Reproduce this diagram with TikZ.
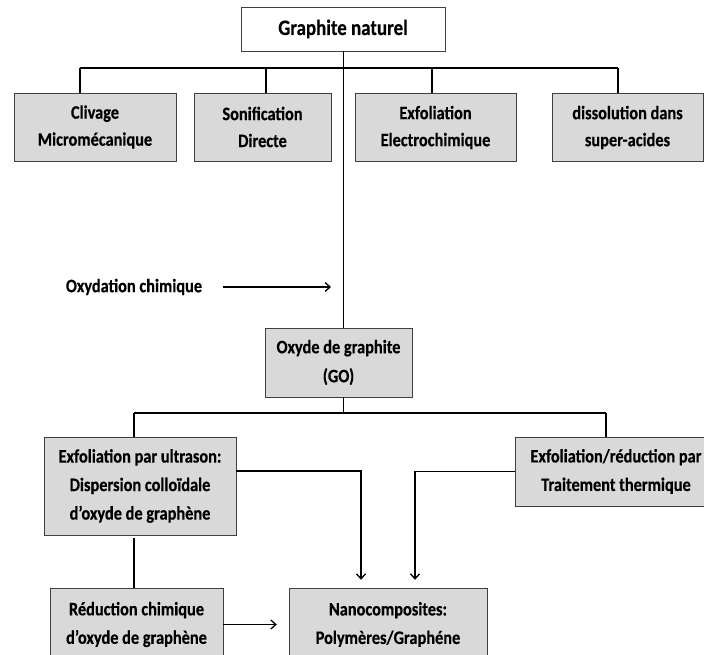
\documentclass[tikz,border=0pt]{standalone}
\usepackage{fontspec}
\setmainfont{Carlito}[FakeStretch=0.86,BoldFeatures={FakeBold=0.4}]
\usetikzlibrary{arrows.meta,positioning,calc}

\begin{document}
\begin{tikzpicture}[x=1pt,y=-1pt,>={Straight Barb[length=5pt,width=9pt]},font=\bfseries]
\tikzstyle{b}=[draw=black!75,fill=black!15,align=center,inner sep=0pt,font=\bfseries\fontsize{19}{27}\selectfont]
\useasboundingbox (0,0) rectangle (704,655);
\clip (0,0) rectangle (704,655);
\node[b,fill=white,minimum width=204,minimum height=44,font=\bfseries\fontsize{22}{25}\selectfont] (gn) at (343,29) {Graphite naturel};
\node[b,minimum width=162,minimum height=68] (cliv) at (95,127) {Clivage\\Microm\'ecanique};
\node[b,minimum width=137,minimum height=68] (sonif) at (262.5,127) {Sonification\\Directe};
\node[b,minimum width=161,minimum height=68] (exfo) at (435.5,127.5) {Exfoliation\\Electrochimique};
\node[b,minimum width=151,minimum height=68] (diss) at (627.5,127.5) {dissolution dans\\super-acides};
\node[font=\bfseries\fontsize{19}{27}\selectfont] (oxy) at (134,287) {Oxydation chimique};
\node[b,minimum width=147,minimum height=69,font=\bfseries\fontsize{19}{29}\selectfont] (go) at (338.5,362.5) {Oxyde de graphite\\(GO)};
\node[b,minimum width=192,minimum height=98,font=\bfseries\fontsize{19}{28.5}\selectfont] (ultra) at (140,486) {Exfoliation par ultrason:\\Dispersion collo\"idale\\d’oxyde de graph\`ene};
\node[b,minimum width=202,minimum height=69,font=\bfseries\fontsize{19}{28.5}\selectfont] (trait) at (616,471.5) {Exfoliation/r\'eduction par\\Traitement thermique};
\node[b,minimum width=173,minimum height=73,font=\bfseries\fontsize{19}{28.5}\selectfont] (reduc) at (136.5,624.5) {R\'eduction chimique\\d’oxyde de graph\`ene};
\node[b,minimum width=198,minimum height=73,font=\bfseries\fontsize{19}{28.5}\selectfont] (nano) at (388,624.5) {Nanocomposites:\\Polym\`eres/Graph\'ene};
% top level
\coordinate (d1) at (80,68); \coordinate (d2) at (266,68); \coordinate (d3) at (432,68); \coordinate (d4) at (618,68);
\draw[line width=1.8pt] (d1) -- (d4);
\draw[line width=1.3pt] (d1) -- (d1 |- cliv.north); \draw[line width=1.3pt] (d2) -- (d2 |- sonif.north);
\draw[line width=1.3pt] (d3) -- (d3 |- exfo.north); \draw[line width=1.3pt] (d4) -- (d4 |- diss.north);
\draw[line width=1pt] (gn.south) -- (gn.south |- go.north);
\coordinate (oxyend) at (331,287);
\draw[->,line width=1.3pt,shorten <=17pt] (oxy.east) -- (oxyend);
% graphite oxide
\coordinate (e1) at (134,413); \coordinate (e2) at (606,413);
\draw[line width=1pt] (gn.south |- go.south) -- (gn.south |- e1);
\draw[line width=2.6pt] (e1) -- (e2);
\draw[line width=1.3pt] (e1) -- (e1 |- ultra.north); \draw[line width=1.3pt] (e2) -- (e2 |- trait.north);
\draw[->,line width=1.3pt] ([yshift=15pt]ultra.east) -| ([xshift=-27pt,yshift=8pt]nano.north);
\draw[->,line width=1.3pt] (trait.west) -| ([xshift=27pt,yshift=8pt]nano.north);
\draw[line width=1.3pt] ([yshift=-3pt]e1 |- ultra.south) -- (e1 |- reduc.north);
\draw[->,line width=1.3pt,shorten >=12pt] (reduc.east) -- (nano.west);
\end{tikzpicture}
\end{document}
